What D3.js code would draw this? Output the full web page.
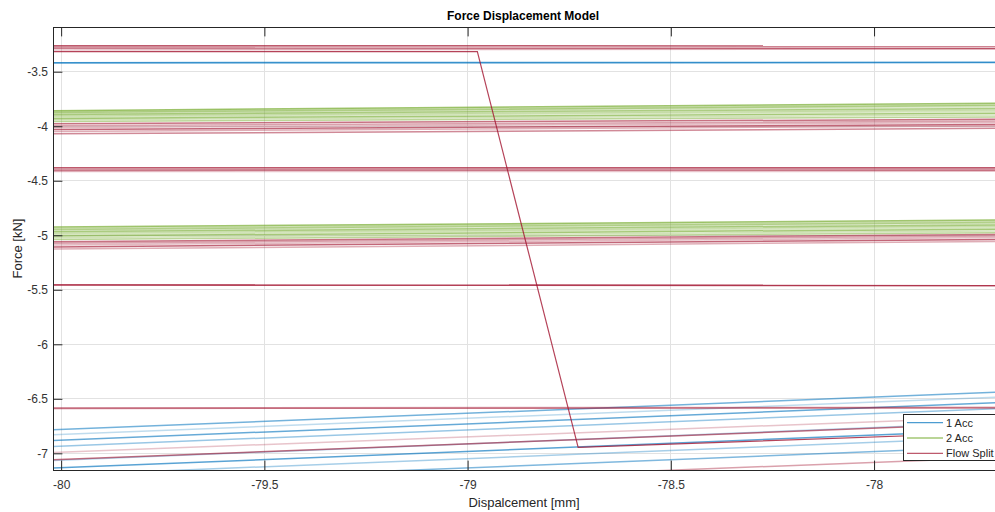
<!DOCTYPE html>
<html>
<head>
<meta charset="utf-8">
<script src="https://cdn.jsdelivr.net/npm/d3@7/dist/d3.min.js"></script>
<style>
  html, body { margin: 0; padding: 0; background: #fff; }
  svg { display: block; font-family: "Liberation Sans", Arial, Helvetica, sans-serif; }
</style>
</head>
<body>
<svg id="chart" width="995" height="512"></svg>
<script>
// Axis ticks
const xTicks = [-80, -79.5, -79, -78.5, -78];
const yTicks = [-7, -6.5, -6, -5.5, -5, -4.5, -4, -3.5];

// Displacement [mm] at the two ends of each straight run
const dispEnds = [-80.02, -77.70];

// Force [kN] at dispEnds for every "1 Acc" run
const acc1Force = [
  [-3.417, -3.414], [-3.421, -3.418],
  [-6.784, -6.440], [-6.830, -6.485], [-6.882, -6.536], [-6.937, -6.591],
  [-7.065, -6.720], [-7.135, -6.788], [-7.201, -6.855], [-7.285, -6.940]
];

// Force [kN] at dispEnds for every "2 Acc" run
const acc2Force = [
  [-3.857, -3.789], [-3.866, -3.800], [-3.875, -3.810], [-3.884, -3.823], [-3.893, -3.837],
  [-3.905, -3.851], [-3.916, -3.864], [-3.929, -3.881], [-3.941, -3.898], [-3.956, -3.915],
  [-4.925, -4.860], [-4.936, -4.871], [-4.947, -4.882], [-4.958, -4.894], [-4.969, -4.905],
  [-4.982, -4.918], [-4.995, -4.931], [-5.008, -4.944], [-5.024, -4.960], [-5.040, -4.976]
];

// Force [kN] at dispEnds for every "Flow Split" run
const flowForce = [
  [-3.261, -3.264], [-3.274, -3.283], [-3.286, -3.288], [-3.300, -3.291],
  [-3.978, -3.936], [-3.995, -3.953], [-4.012, -3.966], [-4.030, -3.984], [-4.048, -3.998], [-4.070, -4.019],
  [-4.382, -4.380], [-4.394, -4.392], [-4.405, -4.403], [-4.416, -4.414],
  [-5.060, -4.993], [-5.074, -5.007], [-5.089, -5.021], [-5.107, -5.038], [-5.127, -5.057],
  [-5.453, -5.459], [-5.457, -5.462],
  [-6.582, -6.578], [-6.588, -6.584],
  [-6.992, -6.668], [-7.060, -6.726], [-7.373, -7.040]
];

// The "Flow Split" run with the force drop
const stepDisp  = [-80.02, -78.976, -78.728, -77.70];
const stepForce = [-3.316, -3.316, -6.946, -6.811];

const seriesNames = ["1 Acc", "2 Acc", "Flow Split"];
const colors = { "1 Acc": "#0072BD", "2 Acc": "#77AC30", "Flow Split": "#A2142F" };

// Per-run transparency cycle so overlapping runs read as a band
const alphaCycle = [0.7, 0.35, 0.55, 0.25, 0.6, 0.4, 0.3, 0.65, 0.35, 0.5];

const svg = d3.select("#chart");
const plot = { left: 53, top: 27, right: 996, bottom: 470 };

const x = d3.scaleLinear().domain([-80.02, -77.70]).range([plot.left, plot.right]);
const y = d3.scaleLinear().domain([-7.153, -3.09]).range([plot.bottom, plot.top]);

const axisColor = "#262626";
const tickLen = 9.4;

// Grid
const grid = svg.append("g");
grid.selectAll("line.gx").data(xTicks).join("line")
  .attr("x1", d => x(d)).attr("x2", d => x(d))
  .attr("y1", plot.top).attr("y2", plot.bottom)
  .attr("stroke", "#e2e2e2").attr("stroke-width", 1).attr("shape-rendering", "crispEdges");
grid.selectAll("line.gy").data(yTicks).join("line")
  .attr("x1", plot.left).attr("x2", plot.right)
  .attr("y1", d => y(d)).attr("y2", d => y(d))
  .attr("stroke", "#e2e2e2").attr("stroke-width", 1).attr("shape-rendering", "crispEdges");

// Data lines
svg.append("clipPath").attr("id", "plotClip").append("rect")
  .attr("x", plot.left).attr("y", plot.top)
  .attr("width", plot.right - plot.left).attr("height", plot.bottom - plot.top);

const dataG = svg.append("g").attr("clip-path", "url(#plotClip)");
const line = d3.line().x(d => x(d[0])).y(d => y(d[1]));

function drawRuns(forces, name) {
  dataG.append("g").selectAll("path").data(forces).join("path")
    .attr("d", f => line(dispEnds.map((dx, i) => [dx, f[i]])))
    .attr("fill", "none")
    .attr("stroke", colors[name])
    .attr("stroke-opacity", (f, i) => alphaCycle[i % alphaCycle.length])
    .attr("stroke-width", 1.5);
}
drawRuns(acc1Force, "1 Acc");
drawRuns(acc2Force, "2 Acc");
drawRuns(flowForce, "Flow Split");

dataG.append("path")
  .attr("d", line(stepDisp.map((dx, i) => [dx, stepForce[i]])))
  .attr("fill", "none")
  .attr("stroke", colors["Flow Split"])
  .attr("stroke-opacity", 0.8)
  .attr("stroke-width", 1.2);

// Axes
const fmt = d => String(d);
const yAxis = svg.append("g").attr("transform", `translate(${plot.left},0)`)
  .call(d3.axisLeft(y).tickValues(yTicks).tickFormat(fmt).tickSizeInner(-tickLen).tickSizeOuter(0).tickPadding(5));
const xAxis = svg.append("g").attr("transform", `translate(0,${plot.bottom})`)
  .call(d3.axisBottom(x).tickValues(xTicks).tickFormat(fmt).tickSizeInner(-tickLen).tickSizeOuter(0).tickPadding(10));
const topAxis = svg.append("g").attr("transform", `translate(0,${plot.top})`)
  .call(d3.axisTop(x).tickValues(xTicks).tickFormat("").tickSizeInner(-tickLen).tickSizeOuter(0));

[yAxis, xAxis, topAxis].forEach(g => {
  g.select(".domain").remove();
  g.selectAll(".tick line").attr("stroke", axisColor);
  g.selectAll(".tick text").attr("fill", "#333").attr("font-size", 12)
    .attr("font-family", "Liberation Sans, Arial, sans-serif");
});

// Axes box
svg.append("rect")
  .attr("x", plot.left + 0.5).attr("y", plot.top + 0.5)
  .attr("width", plot.right - plot.left).attr("height", plot.bottom - plot.top)
  .attr("fill", "none").attr("stroke", axisColor).attr("stroke-width", 1);

// Title and labels
svg.append("text").attr("x", 523).attr("y", 19.5).attr("text-anchor", "middle")
  .attr("font-size", 12).attr("font-weight", "bold").attr("fill", "#000")
  .text("Force Displacement Model");
svg.append("text").attr("x", 524).attr("y", 507).attr("text-anchor", "middle")
  .attr("font-size", 13).attr("fill", "#262626")
  .text("Dispalcement [mm]");
svg.append("text").attr("transform", `translate(21.5,${(plot.top + plot.bottom) / 2}) rotate(-90)`)
  .attr("text-anchor", "middle").attr("font-size", 13).attr("fill", "#262626")
  .text("Force [kN]");

// Legend
const legend = svg.append("g");
legend.append("rect")
  .attr("x", 903.5).attr("y", 414.5).attr("width", 100).attr("height", 46)
  .attr("fill", "#fff").attr("stroke", axisColor).attr("stroke-width", 1);
const legendY = d3.scalePoint().domain(seriesNames).range([422.7, 453.3]);
seriesNames.forEach(name => {
  legend.append("line")
    .attr("x1", 907).attr("x2", 943)
    .attr("y1", legendY(name)).attr("y2", legendY(name))
    .attr("stroke", colors[name]).attr("stroke-opacity", name === "2 Acc" ? 1 : 0.7)
    .attr("stroke-width", 1.2);
  legend.append("text")
    .attr("x", 946).attr("y", legendY(name)).attr("dy", "0.35em")
    .attr("font-size", 11).attr("fill", "#262626")
    .text(name);
});
</script>
</body>
</html>
